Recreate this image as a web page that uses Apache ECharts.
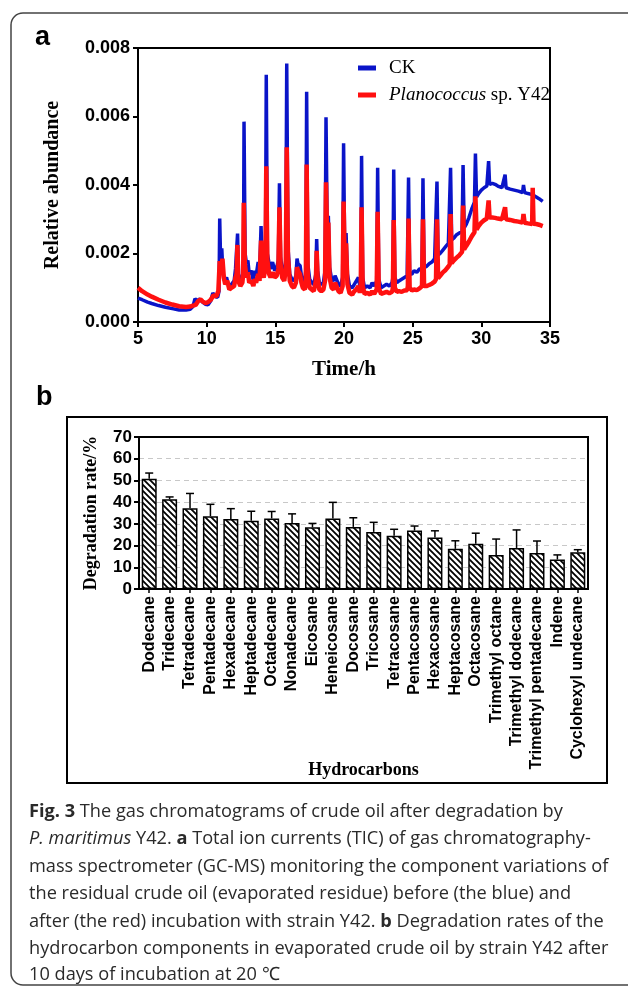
<!DOCTYPE html>
<html><head><meta charset="utf-8">
<script src="https://cdn.jsdelivr.net/npm/echarts@6/dist/echarts.min.js"></script>
<style>html,body{margin:0;padding:0;background:#fff}#c{width:628px;height:989px}</style>
</head><body><div id="c"></div>
<script>
// ---------- Panel a: chromatogram (time in h, abundance in units of 1e-3) ----------
const ckPoints = [
[5.0,0.70],[5.3,0.65],[5.7,0.58],[6.0,0.54],[6.5,0.48],[7.0,0.43],[7.5,0.39],[8.0,0.35],[8.5,0.35],[8.8,0.37],
[9.0,0.45],[9.15,0.68],[9.3,0.62],[9.5,0.67],[9.7,0.58],[9.9,0.52],[10.1,0.50],[10.3,0.62],[10.45,0.85],[10.6,0.75],
[10.8,0.72],[10.9,0.90],[10.95,3.02],[11.02,1.70],[11.1,2.15],[11.18,1.45],[11.3,1.20],[11.45,1.30],[11.6,1.05],[11.8,1.10],
[12.0,1.20],[12.1,1.55],[12.2,1.60],[12.25,2.58],[12.32,1.40],[12.45,1.20],[12.6,1.30],[12.68,1.60],[12.72,5.85],[12.8,2.00],
[12.9,1.70],[13.0,1.80],[13.1,1.40],[13.25,1.50],[13.4,1.20],[13.5,1.50],[13.6,1.35],[13.75,1.75],[13.85,1.40],[13.96,2.80],
[14.05,1.60],[14.15,1.55],[14.28,1.80],[14.34,7.22],[14.42,2.00],[14.55,1.70],[14.65,1.55],[14.8,1.75],[14.95,1.50],[15.1,1.60],
[15.22,1.80],[15.3,4.05],[15.38,1.90],[15.5,1.50],[15.65,1.45],[15.76,1.80],[15.83,7.55],[15.92,2.20],[16.05,1.40],[16.2,1.25],
[16.35,1.20],[16.5,1.35],[16.58,1.85],[16.65,1.70],[16.8,1.65],[16.9,1.35],[17.0,1.20],[17.15,1.25],[17.22,1.50],[17.28,6.72],
[17.36,1.70],[17.5,1.25],[17.65,1.15],[17.8,1.10],[17.95,1.40],[18.01,2.42],[18.08,1.50],[18.2,1.15],[18.35,1.10],[18.5,1.15],
[18.62,1.50],[18.69,5.98],[18.78,2.60],[18.86,3.10],[18.95,1.60],[19.1,1.25],[19.25,1.20],[19.35,1.35],[19.45,1.30],[19.6,1.10],
[19.75,1.05],[19.9,1.30],[19.97,5.22],[20.05,2.10],[20.15,2.60],[20.25,1.40],[20.4,1.05],[20.6,1.00],[20.75,1.10],[20.9,1.20],
[21.05,1.30],[21.15,1.05],[21.22,1.30],[21.28,4.85],[21.36,1.30],[21.5,1.00],[21.7,1.05],[21.9,1.00],[22.05,1.15],[22.2,1.05],
[22.38,1.20],[22.45,4.50],[22.53,1.25],[22.7,1.00],[22.9,1.05],[23.1,1.10],[23.3,1.05],[23.5,1.15],[23.56,1.30],[23.62,4.45],
[23.7,1.30],[23.85,1.15],[24.0,1.20],[24.2,1.25],[24.4,1.30],[24.6,1.35],[24.65,1.40],[24.7,4.22],[24.78,1.40],[24.95,1.40],
[25.1,1.50],[25.3,1.45],[25.5,1.55],[25.68,1.55],[25.75,4.20],[25.83,1.60],[26.0,1.62],[26.2,1.70],[26.4,1.75],[26.6,1.85],
[26.7,1.90],[26.77,4.10],[26.85,1.95],[27.0,2.00],[27.2,2.10],[27.4,2.20],[27.6,2.30],[27.7,2.35],[27.76,4.50],[27.84,2.40],
[28.0,2.45],[28.2,2.55],[28.4,2.60],[28.6,2.65],[28.67,4.58],[28.75,2.75],[28.9,2.85],[29.1,3.05],[29.3,3.30],[29.5,3.50],
[29.57,4.92],[29.65,3.65],[29.8,3.75],[30.0,3.85],[30.2,3.92],[30.4,3.97],[30.53,4.70],[30.6,4.02],[30.8,4.05],[31.0,4.02],
[31.2,3.97],[31.5,3.92],[31.73,4.30],[31.8,3.92],[32.1,3.88],[32.4,3.85],[32.7,3.82],[33.0,3.78],[33.07,4.00],[33.15,3.78],
[33.4,3.75],[33.7,3.72],[34.0,3.65],[34.2,3.60],[34.47,3.52]
];
const y42Points = [
[5.0,1.00],[5.3,0.90],[5.7,0.80],[6.0,0.74],[6.5,0.65],[7.0,0.57],[7.5,0.51],[8.0,0.46],[8.5,0.44],[8.8,0.45],
[9.0,0.48],[9.2,0.50],[9.4,0.62],[9.55,0.66],[9.7,0.60],[9.9,0.55],[10.1,0.58],[10.3,0.65],[10.5,0.78],[10.7,0.75],
[10.85,0.90],[10.95,1.78],[11.05,1.50],[11.15,1.85],[11.25,1.30],[11.35,1.10],[11.5,1.20],[11.65,0.95],[11.8,1.00],[12.0,1.05],
[12.1,1.30],[12.18,1.40],[12.24,2.25],[12.3,1.20],[12.45,1.05],[12.6,1.15],[12.66,1.40],[12.70,3.48],[12.78,1.70],[12.9,1.30],
[13.0,1.45],[13.1,1.15],[13.25,1.20],[13.4,1.05],[13.5,1.25],[13.6,1.15],[13.75,1.40],[13.85,1.20],[13.96,2.38],[14.05,1.40],
[14.15,1.30],[14.28,1.55],[14.34,4.55],[14.42,1.80],[14.55,1.40],[14.65,1.30],[14.8,1.45],[14.95,1.30],[15.1,1.35],[15.22,1.55],
[15.30,3.35],[15.38,1.70],[15.5,1.30],[15.65,1.20],[15.76,1.55],[15.83,5.10],[15.92,1.90],[16.05,1.20],[16.2,1.05],[16.35,1.00],
[16.5,1.15],[16.58,1.60],[16.65,1.50],[16.8,1.40],[16.9,1.15],[17.0,1.00],[17.15,0.95],[17.22,1.20],[17.28,4.60],[17.36,1.40],
[17.5,1.00],[17.65,0.95],[17.8,0.90],[17.95,1.20],[18.01,2.08],[18.08,1.30],[18.2,0.95],[18.35,0.90],[18.5,0.95],[18.62,1.20],
[18.69,4.08],[18.78,2.30],[18.86,2.90],[18.95,1.30],[19.1,1.00],[19.25,0.95],[19.35,1.15],[19.45,1.10],[19.6,0.90],[19.75,0.85],
[19.9,1.05],[19.97,3.52],[20.05,1.70],[20.15,2.30],[20.25,1.10],[20.4,0.85],[20.6,0.80],[20.75,0.90],[20.9,0.95],[21.05,1.05],
[21.15,0.85],[21.22,1.05],[21.28,3.35],[21.36,1.05],[21.5,0.82],[21.7,0.85],[21.9,0.80],[22.05,0.90],[22.2,0.82],[22.38,0.95],
[22.45,3.22],[22.53,1.00],[22.7,0.82],[22.9,0.85],[23.1,0.88],[23.3,0.84],[23.5,0.88],[23.56,1.00],[23.62,2.98],[23.7,1.00],
[23.85,0.88],[24.0,0.90],[24.2,0.88],[24.4,0.92],[24.6,0.93],[24.65,1.05],[24.70,3.02],[24.78,1.00],[24.95,0.92],[25.1,0.95],
[25.3,0.93],[25.5,0.98],[25.68,1.05],[25.75,3.00],[25.83,1.05],[26.0,1.05],[26.2,1.08],[26.4,1.12],[26.6,1.18],[26.7,1.25],
[26.77,3.00],[26.85,1.28],[27.0,1.35],[27.2,1.45],[27.4,1.52],[27.6,1.62],[27.7,1.68],[27.76,3.15],[27.84,1.72],[28.0,1.80],
[28.2,1.88],[28.4,1.95],[28.6,2.05],[28.67,3.40],[28.75,2.12],[28.9,2.22],[29.1,2.35],[29.3,2.50],[29.5,2.62],[29.57,3.67],
[29.65,2.70],[29.8,2.80],[30.0,2.90],[30.2,2.97],[30.4,3.02],[30.53,3.55],[30.6,3.05],[30.8,3.05],[31.0,3.04],[31.2,3.02],
[31.5,3.00],[31.73,3.35],[31.8,3.00],[32.1,2.98],[32.4,2.95],[32.7,2.93],[33.0,2.90],[33.07,3.15],[33.15,2.90],[33.4,2.88],
[33.7,2.86],[33.74,3.92],[33.8,2.87],[34.0,2.86],[34.2,2.84],[34.47,2.80]
];
const seriesNames = ['CK', 'Planococcus sp. Y42'];

// ---------- Panel b: degradation rates ----------
const hydrocarbons = ['Dodecane','Tridecane','Tetradecane','Pentadecane','Hexadecane','Heptadecane','Octadecane',
  'Nonadecane','Eicosane','Heneicosane','Docosane','Tricosane','Tetracosane','Pentacosane','Hexacosane',
  'Heptacosane','Octacosane','Trimethyl octane','Trimethyl dodecane','Trimethyl pentadecane','Indene','Cyclohexyl undecane'];
const degradationRate = [50.8,41.3,37.2,33.5,32.2,31.4,32.5,30.4,28.4,32.5,28.6,26.3,24.5,26.9,23.7,18.5,20.8,15.7,18.9,16.6,13.6,16.9];
const errorUpper = [53.4,42.4,44.0,39.0,37.0,35.8,35.7,34.6,30.2,39.9,32.8,30.7,27.5,29.0,26.8,22.2,25.7,23.0,27.2,22.1,15.7,18.1];

const captionLines = [
 '{b|Fig. 3} The gas chromatograms of crude oil after degradation by',
 '{i|P. maritimus} Y42. {b|a} Total ion currents (TIC) of gas chromatography-',
 'mass spectrometer (GC-MS) monitoring the component variations of',
 'the residual crude oil (evaporated residue) before (the blue) and',
 'after (the red) incubation with strain Y42. {b|b} Degradation rates of the',
 'hydrocarbon components in evaporated crude oil by strain Y42 after',
 '10 days of incubation at 20 ℃'
];

// hatch pattern
const pc = document.createElement('canvas');
pc.width = 6; pc.height = 6;
const g = pc.getContext('2d');
g.fillStyle = '#fff'; g.fillRect(0,0,6,6);
g.strokeStyle = '#000'; g.lineWidth = 1.8;
g.beginPath();
g.moveTo(-1,-1); g.lineTo(7,7);
g.moveTo(-1,5); g.lineTo(1,7);
g.moveTo(5,-1); g.lineTo(7,1);
g.stroke();

const SANS = 'Liberation Sans';
const SERIF = 'Liberation Serif';
const CAP = 18.2;
const chart = echarts.init(document.getElementById('c'), null, {renderer:'canvas'});

const graphics = [
  {type:'rect', shape:{x:11, y:13, width:650, height:972, r:12}, style:{fill:'none', stroke:'#444', lineWidth:1.5}, silent:true},
  {type:'rect', shape:{x:67, y:417, width:540, height:366}, style:{fill:'none', stroke:'#000', lineWidth:2}, silent:true},
  {type:'text', x:35, y:38, style:{text:'a', font:'bold 27px "Liberation Sans"', fill:'#000', verticalAlign:'middle'}},
  {type:'text', x:36, y:398, style:{text:'b', font:'bold 27px "Liberation Sans"', fill:'#000', verticalAlign:'middle'}}
];
const capY = [812, 839, 867, 894, 922, 949, 975];
captionLines.forEach((t, i) => {
  graphics.push({type:'text', x:29, y:capY[i], style:{
    text:t, fontFamily:'Open Sans', fontSize:CAP, fill:'#2a2a2a', verticalAlign:'middle',
    rich:{
      b:{fontFamily:'Open Sans', fontSize:CAP, fontWeight:'bold', color:'#2a2a2a'},
      i:{fontFamily:'Open Sans', fontSize:CAP, fontStyle:'italic', color:'#2a2a2a'}
    }}});
});

const axisLineStyle = {color:'#000', width:2};
chart.setOption({
  animation:false,
  backgroundColor:'#fff',
  graphic: graphics,
  legend: {
    left: 353, top: 53, orient:'vertical', itemWidth:18, itemHeight:5, itemGap:7, icon:'rect',
    data: seriesNames,
    formatter: n => n === 'CK' ? 'CK' : '{i|Planococcus} sp. Y42',
    textStyle: {fontFamily:SERIF, fontSize:19, color:'#000', lineHeight:20, padding:[0,0,0,8],
      rich:{i:{fontFamily:SERIF, fontSize:19, fontStyle:'italic', color:'#000'}}}
  },
  grid: [
    {left:138, top:48, width:412, height:274, show:true, borderColor:'#000', borderWidth:2, containLabel:false},
    {left:139, top:437, width:449, height:152, show:true, borderColor:'#000', borderWidth:2, containLabel:false}
  ],
  xAxis: [
    {gridIndex:0, type:'value', min:5, max:35, interval:5,
     axisLine:{lineStyle:axisLineStyle}, axisTick:{show:true, length:5, lineStyle:{width:2, color:'#000'}},
     axisLabel:{color:'#000', fontFamily:SANS, fontWeight:'bold', fontSize:18, margin:8},
     splitLine:{show:false},
     name:'Time/h', nameLocation:'middle', nameGap:37, nameMoveOverlap:false,
     nameTextStyle:{fontFamily:SERIF, fontWeight:'bold', fontSize:21, color:'#000'}},
    {gridIndex:1, type:'category', data:hydrocarbons,
     axisLine:{lineStyle:axisLineStyle}, axisTick:{show:true, alignWithLabel:true, length:4, lineStyle:{width:1.5, color:'#000'}},
     axisLabel:{color:'#000', fontFamily:SANS, fontWeight:'bold', fontSize:16, rotate:90, interval:0, margin:7},
     name:'Hydrocarbons', nameLocation:'middle', nameGap:172, nameMoveOverlap:false,
     nameTextStyle:{fontFamily:SERIF, fontWeight:'bold', fontSize:18, color:'#000'}}
  ],
  yAxis: [
    {gridIndex:0, type:'value', min:0, max:0.008, interval:0.002,
     axisLine:{show:true, lineStyle:axisLineStyle}, axisTick:{show:true, length:5, lineStyle:{width:2, color:'#000'}},
     axisLabel:{color:'#000', fontFamily:SANS, fontWeight:'bold', fontSize:18, margin:8, formatter:v => v.toFixed(3)},
     splitLine:{show:false},
     name:'Relative abundance', nameLocation:'middle', nameGap:75, nameMoveOverlap:false,
     nameTextStyle:{fontFamily:SERIF, fontWeight:'bold', fontSize:20, color:'#000'}},
    {gridIndex:1, type:'value', min:0, max:70, interval:10,
     axisLine:{show:true, lineStyle:axisLineStyle}, axisTick:{show:true, length:5, lineStyle:{width:2, color:'#000'}},
     axisLabel:{color:'#000', fontFamily:SANS, fontWeight:'bold', fontSize:17, margin:7},
     splitLine:{show:true, showMinLine:false, showMaxLine:false, lineStyle:{type:[5,4], color:'#c8c8c8', width:1}},
     name:'Degradation rate/%', nameLocation:'middle', nameGap:39, nameMoveOverlap:false,
     nameTextStyle:{fontFamily:SERIF, fontWeight:'bold', fontSize:18, color:'#000'}}
  ],
  series: [
    {name:seriesNames[0], type:'line', xAxisIndex:0, yAxisIndex:0, symbol:'none', color:'#0a14c8',
     lineStyle:{width:3.5, color:'#0a14c8'}, data: ckPoints.map(p => [p[0], p[1]/1000])},
    {name:seriesNames[1], type:'line', xAxisIndex:0, yAxisIndex:0, symbol:'none', color:'#ff1010',
     lineStyle:{width:4.5, color:'#ff1010'}, data: y42Points.map(p => [p[0], p[1]/1000])},
    {type:'bar', xAxisIndex:1, yAxisIndex:1, barWidth:15, data:degradationRate,
     itemStyle:{color:{image:pc, repeat:'repeat'}, borderColor:'#000', borderWidth:1.5}},
    {type:'custom', xAxisIndex:1, yAxisIndex:1, z:5,
     data: degradationRate.map((v,i) => [i, v, errorUpper[i]]),
     encode:{x:0, y:[1,2]},
     renderItem:(params, api) => {
       const a = api.coord([api.value(0), api.value(1)]);
       const t = api.coord([api.value(0), api.value(2)]);
       return {type:'group', children:[
         {type:'line', shape:{x1:a[0], y1:a[1], x2:t[0], y2:t[1]}, style:{stroke:'#000', lineWidth:1.5}},
         {type:'line', shape:{x1:t[0]-4, y1:t[1], x2:t[0]+4, y2:t[1]}, style:{stroke:'#000', lineWidth:1.5}}
       ]};
     }}
  ]
});
</script></body></html>
